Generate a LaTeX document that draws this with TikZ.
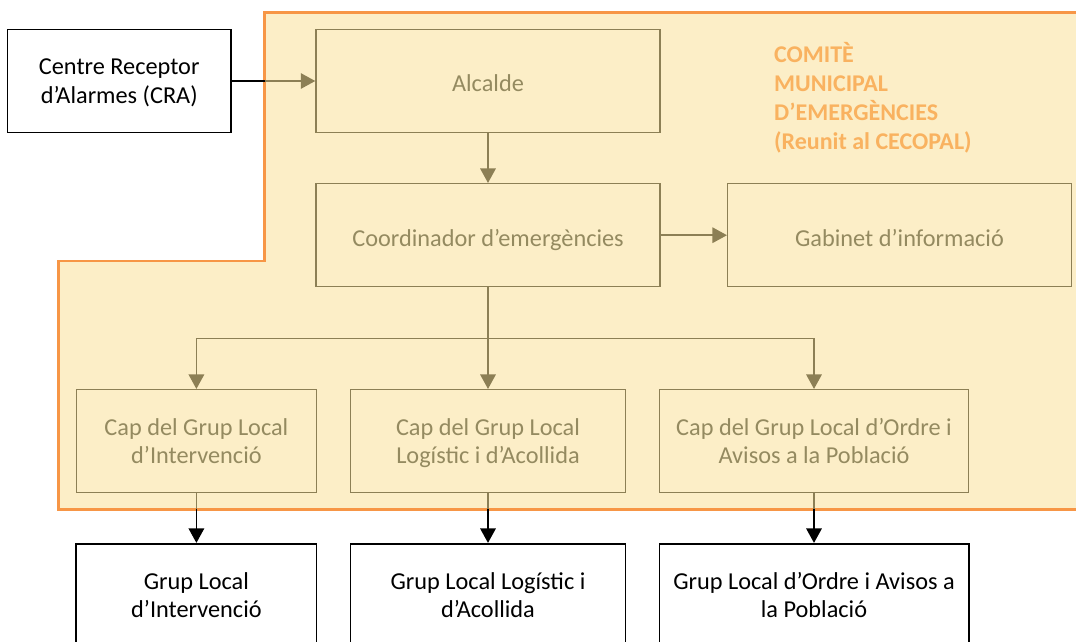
\documentclass[tikz,border=0pt]{standalone}
\usepackage{fontspec}
\setmainfont{Carlito}
\usetikzlibrary{arrows.meta}
\definecolor{zoneorange}{RGB}{247,150,70}
\definecolor{zonefill}{RGB}{252,238,199}
\definecolor{oliveline}{RGB}{140,127,85}
\definecolor{olivetext}{RGB}{148,138,96}
\definecolor{titleorange}{RGB}{249,178,96}
\newcommand{\topstrut}{\rule{0pt}{28.6pt}}
\newcommand{\twotopstrut}{\rule{0pt}{23.4pt}}
\newcommand{\botstrut}{\rule[-7pt]{0pt}{7pt}}
\begin{document}
\begin{tikzpicture}[x=1pt,y=-1pt,
  boxtext/.style={font=\fontsize{24.3}{28.5}\selectfont, align=center, inner sep=0pt},
  outbox/.style={boxtext, draw=black, line width=1.6pt, fill=white, text=black},
  inbox/.style={boxtext, draw=oliveline, line width=1.5pt, fill=zonefill, text=olivetext},
  tipstyle/.style={-{Triangle[length=14.5pt,width=15.5pt]}},
  oline/.style={draw=oliveline, line width=1.5pt},
  bline/.style={draw=black, line width=1.6pt},
  oarrow/.style={oline, tipstyle},
  barrow/.style={bline, tipstyle},
  zone/.style={draw=zoneorange, line width=2.5pt, fill=zonefill, line join=miter}
]
\useasboundingbox (0,0) rectangle (1076,641);
\clip (0,0) rectangle (1076,641);

% committee zone
\draw[zone] (1095,12.7) -- (264.5,12.7) -- (264.5,261) -- (58.5,261) -- (58.5,509.3) -- (1095,509.3) -- cycle;
\coordinate (zoneleft) at (264.5,12.7);
\coordinate (zonebottom) at (58.5,509.3);
\coordinate (bus) at (0,338.3);

\node[anchor=north west, inner sep=0pt, align=left, text=titleorange,
      font=\bfseries\fontsize{24}{29}\selectfont] (title) at (774,42.5)
      {COMITÈ\\MUNICIPAL\\D’EMERGÈNCIES\\(Reunit al CECOPAL)};

% boxes
\node[outbox, minimum width=223.5pt, minimum height=102.8pt] (cra) at (119.2,81) {\twotopstrut Centre Receptor\\d’Alarmes (CRA)\botstrut};
\node[inbox, minimum width=344pt, minimum height=102.6pt] (alc) at (488,81) {\topstrut Alcalde\botstrut};
\node[inbox, minimum width=344pt, minimum height=103pt] (coord) at (488,235.2) {\topstrut Coordinador d’emergències\botstrut};
\node[inbox, minimum width=343.6pt, minimum height=103pt] (gab) at (899.5,235.2) {\topstrut Gabinet d’informació\botstrut};

\node[inbox, minimum width=240.3pt, minimum height=103pt] (cap1) at (196.4,441.2) {\twotopstrut Cap del Grup Local\\d’Intervenció\botstrut};
\node[inbox, minimum width=274.7pt, minimum height=103pt] (cap2) at (488,441.2) {\twotopstrut Cap del Grup Local\\Logístic i d’Acollida\botstrut};
\node[inbox, minimum width=309.4pt, minimum height=103pt] (cap3) at (814,441.2) {\twotopstrut Cap del Grup Local d’Ordre i\\Avisos a la Població\botstrut};

\node[outbox, minimum width=240.3pt, minimum height=103pt] (grp1) at (196.4,595.2) {\twotopstrut Grup Local\\d’Intervenció\botstrut};
\node[outbox, minimum width=274.7pt, minimum height=103pt] (grp2) at (488,595.2) {\twotopstrut Grup Local Logístic i\\d’Acollida\botstrut};
\node[outbox, minimum width=309.4pt, minimum height=103pt] (grp3) at (814,595.2) {\twotopstrut Grup Local d’Ordre i Avisos a\\la Població\botstrut};

% connectors
\draw[bline] (cra.east) -- (cra.east -| zoneleft);
\draw[oarrow] (cra.east -| zoneleft) -- (alc.west);
\draw[oarrow] (alc.south) -- (coord.north);
\draw[oarrow] (coord.east) -- (gab.west);

\draw[oarrow] (coord.south) -- (cap2.north);
\draw[oarrow] (coord.south |- bus) -| (cap1.north);
\draw[oarrow] (coord.south |- bus) -| (cap3.north);

\draw[oline] (cap1.south) -- (cap1.south |- zonebottom);
\draw[barrow] (cap1.south |- zonebottom) -- (grp1.north);
\draw[oline] (cap2.south) -- (cap2.south |- zonebottom);
\draw[barrow] (cap2.south |- zonebottom) -- (grp2.north);
\draw[oline] (cap3.south) -- (cap3.south |- zonebottom);
\draw[barrow] (cap3.south |- zonebottom) -- (grp3.north);
\end{tikzpicture}
\end{document}
